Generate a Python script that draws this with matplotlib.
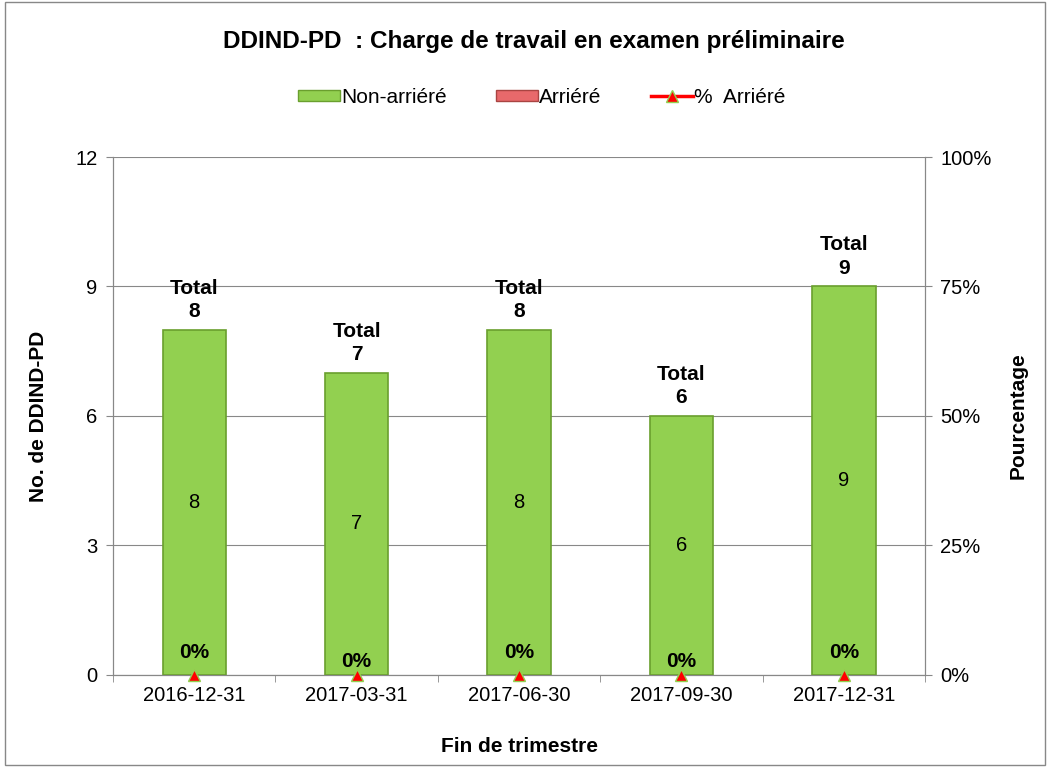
import matplotlib.pyplot as plt
import numpy as np
from matplotlib.patches import Rectangle
from matplotlib.lines import Line2D

plt.rcParams['font.family'] = ['Liberation Sans', 'DejaVu Sans']

# data
quarters = ['2016-12-31', '2017-03-31', '2017-06-30', '2017-09-30', '2017-12-31']
non_arriere = [8, 7, 8, 6, 9]
arriere = [0, 0, 0, 0, 0]
pct_arriere = [0, 0, 0, 0, 0]
totals = [n + a for n, a in zip(non_arriere, arriere)]

fig = plt.figure(figsize=(10.5, 7.67), dpi=100)
ax = fig.add_axes([0.1076, 0.12, 0.7734, 0.6753])
ax2 = ax.twinx()

x = np.arange(len(quarters))
green = '#92d050'
ax.bar(x, non_arriere, width=0.39, color=green, edgecolor='#6a9f2e', linewidth=1.2, zorder=3)
ax.bar(x, arriere, width=0.39, bottom=non_arriere, color='#e8696b', linewidth=0, zorder=3)

for i in range(len(x)):
    ax.text(x[i], non_arriere[i] / 2, str(non_arriere[i]), ha='center', va='center', fontsize=14.5, zorder=5)
    ax.text(x[i], totals[i] + 0.2, 'Total\n' + str(totals[i]), ha='center', va='bottom',
            fontsize=15, fontweight='bold', linespacing=1.3, zorder=5)

# line hidden behind the axis in the original, only markers show
ax2.plot(x, pct_arriere, linestyle='none', marker='^', markersize=8,
         markerfacecolor='red', markeredgecolor='#92d050', zorder=4, clip_on=False)
for i in range(len(x)):
    off = 0.025 if i % 2 == 0 else 0.008
    ax2.text(x[i], pct_arriere[i] + off, '%d%%' % pct_arriere[i], ha='center', va='bottom',
             fontsize=15, fontweight='bold')

ax.set_xlim(-0.5, len(x) - 0.5)
ax.set_ylim(0, 12)
ax.set_yticks([0, 3, 6, 9, 12])
ax2.set_ylim(0, 1)
ax2.set_yticks([0, 0.25, 0.5, 0.75, 1.0])
ax2.set_yticklabels(['0%', '25%', '50%', '75%', '100%'])

ax.set_xticks(x)
ax.set_xticklabels(quarters)
ax.set_xticks(np.arange(-0.5, len(x), 1), minor=True)
ax.tick_params(axis='x', which='major', length=0, labelsize=14.5, pad=8)
ax.tick_params(axis='x', which='minor', length=5, color='#888888')
ax.tick_params(axis='y', labelsize=14.5, length=5, color='#888888', pad=6)
ax2.tick_params(axis='y', labelsize=14.5, length=5, color='#888888', pad=6)

ax.grid(axis='y', color='#888888', linewidth=0.8, zorder=0)
for a in (ax, ax2):
    for s in a.spines.values():
        s.set_color('#888888')
    a.spines['top'].set_visible(False)

ax.set_ylabel('No. de DDIND-PD', fontsize=15, fontweight='bold', labelpad=20)
ax2.set_ylabel('Pourcentage', fontsize=15, fontweight='bold', labelpad=12)
ax.set_xlabel('Fin de trimestre', fontsize=15, fontweight='bold', labelpad=23)

fig.text(0.508, 0.946, 'DDIND-PD  : Charge de travail en examen préliminaire',
         ha='center', va='center', fontsize=17.5, fontweight='bold')

handles = [Rectangle((0, 0), 1, 1, facecolor=green, edgecolor='#6a9f2e'),
           Rectangle((0, 0), 1, 1, facecolor='#e8696b', edgecolor='#a94442'),
           Line2D([], [], color='red', linewidth=2.5, marker='^', markersize=8,
                  markerfacecolor='red', markeredgecolor='#92d050')]
fig.legend(handles, ['Non-arriéré', 'Arriéré', '%  Arriéré'], loc='center',
           bbox_to_anchor=(0.516, 0.873), ncol=3, frameon=False, fontsize=15,
           handlelength=2.0, handletextpad=0.05, columnspacing=2.4, handleheight=0.5)

fig.patches.append(Rectangle((0.005, 0.003), 0.99, 0.994, transform=fig.transFigure,
                             fill=False, edgecolor='#888888', linewidth=1))

fig.savefig('out.png', dpi=100)
